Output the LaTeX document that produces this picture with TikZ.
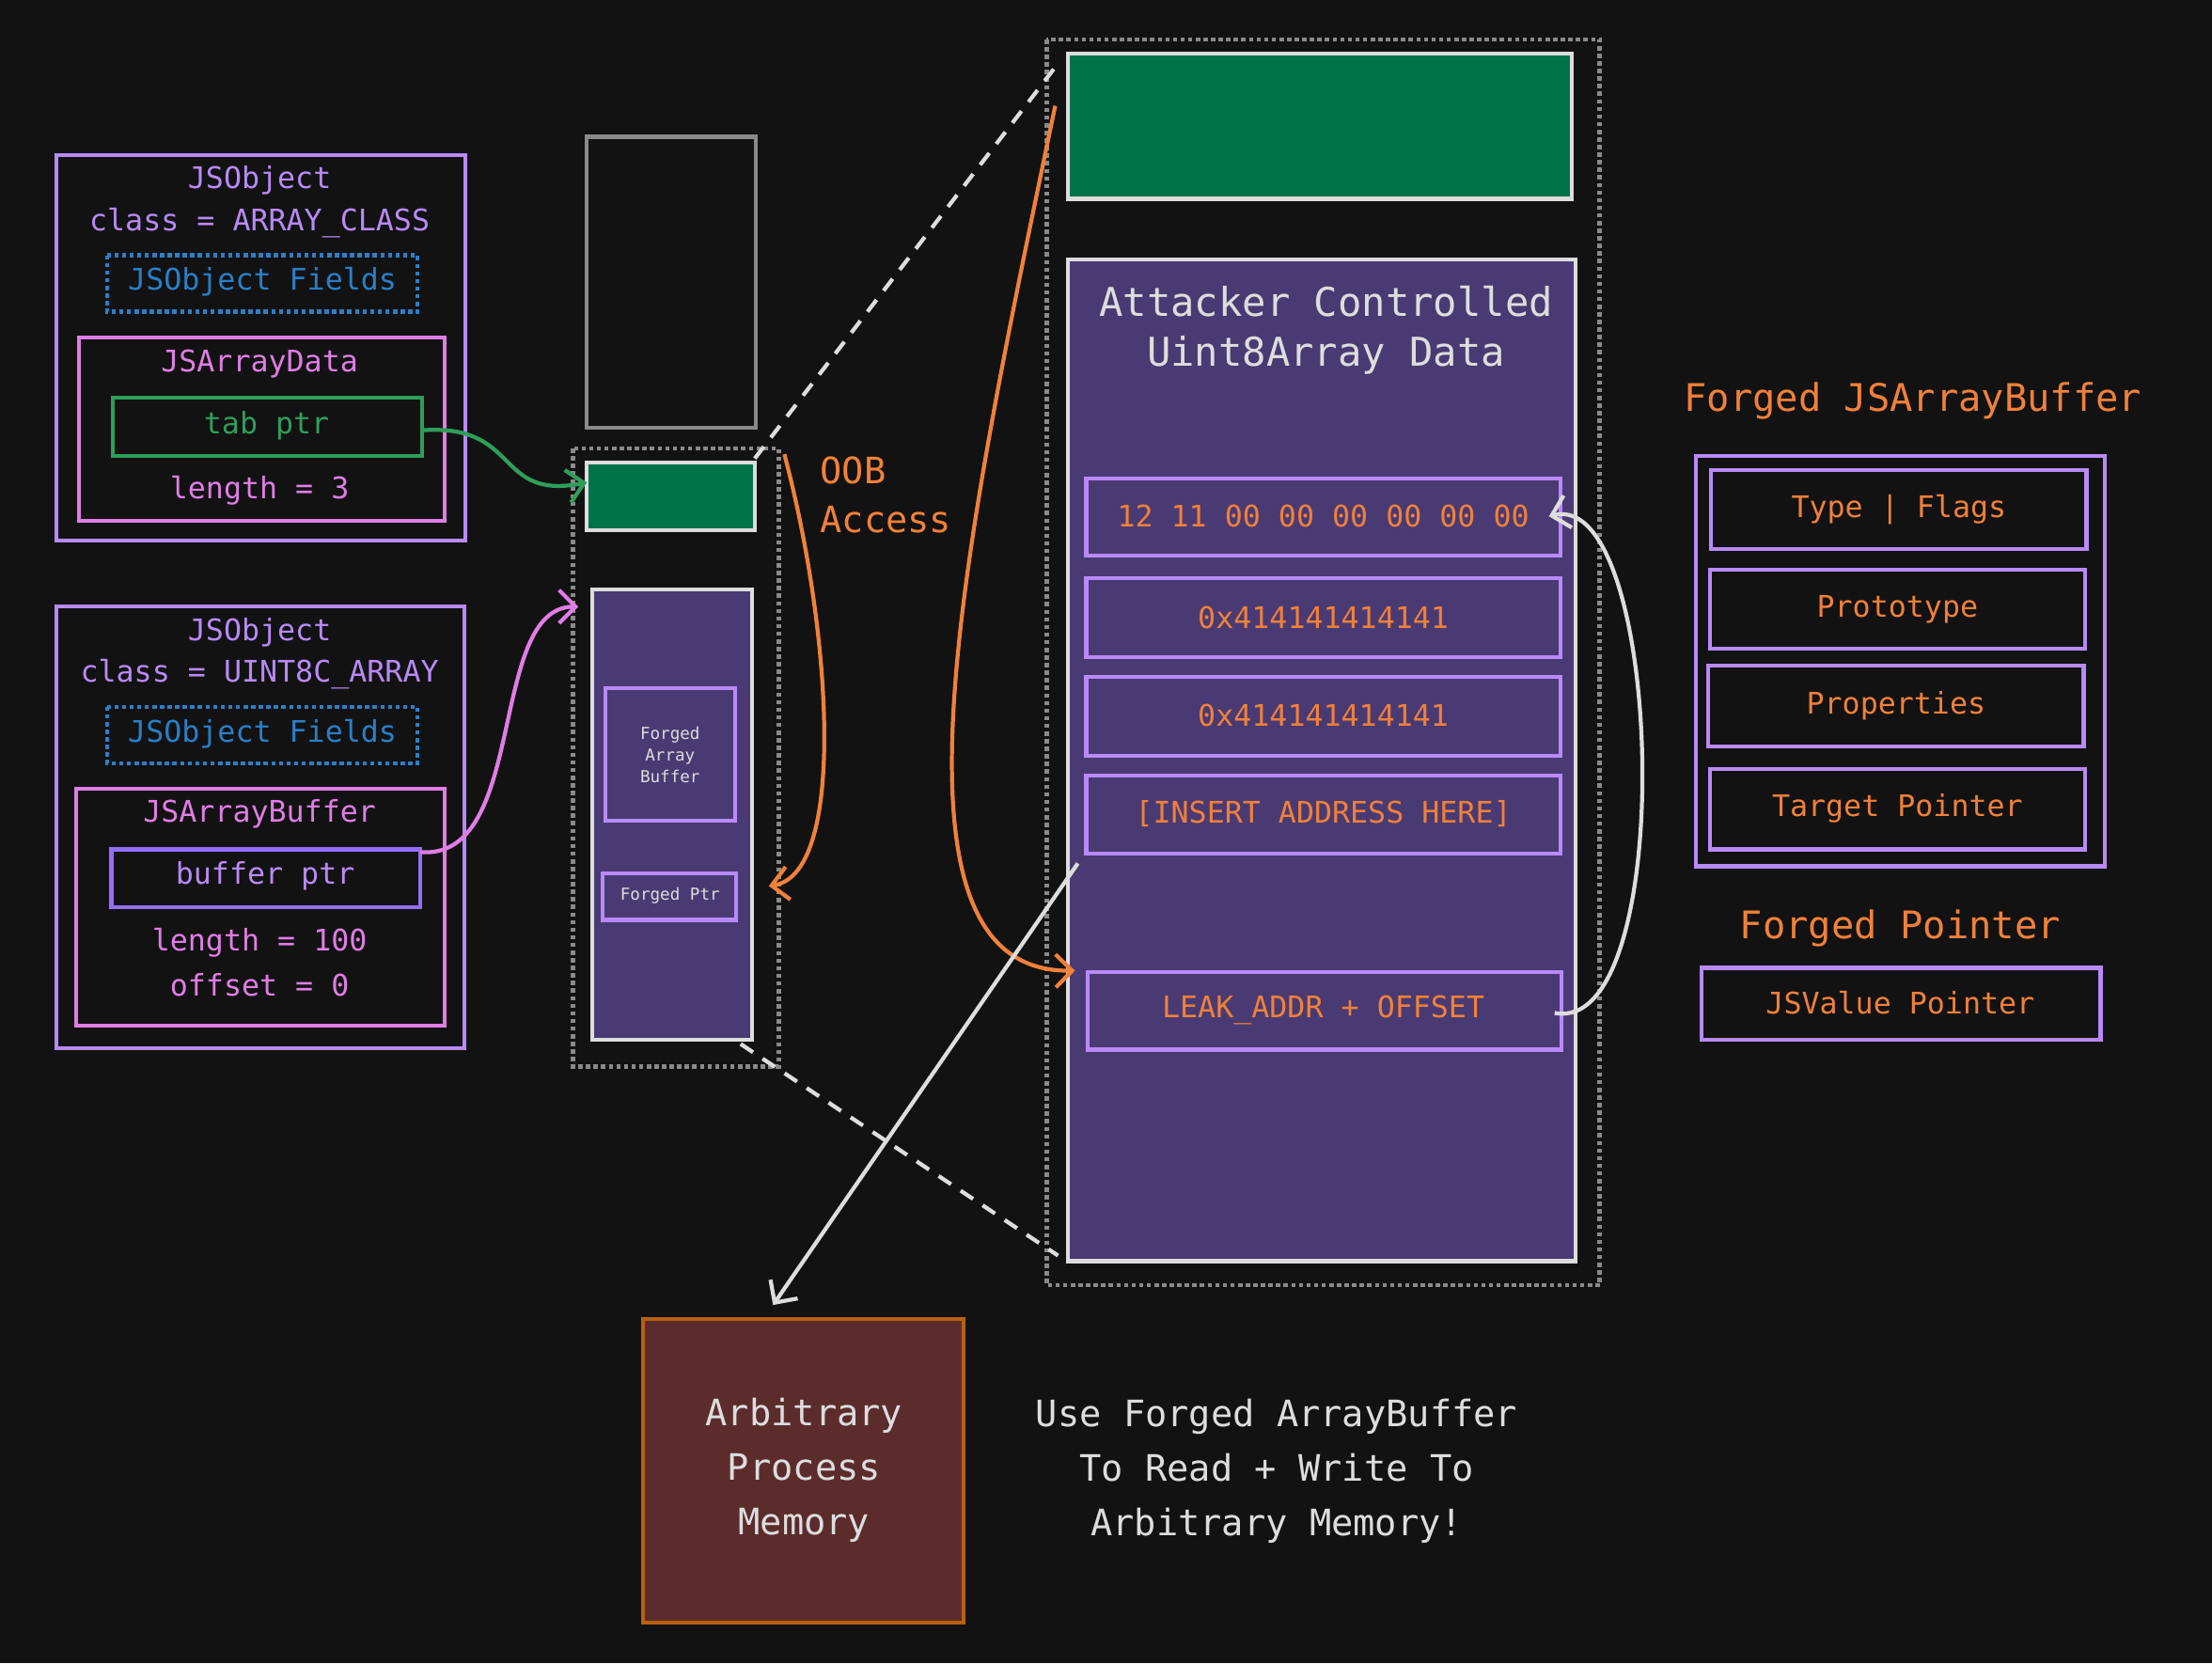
\documentclass[tikz,border=0pt]{standalone}
\usepackage{fontspec}
\setmainfont{DejaVu Sans Mono}
\usetikzlibrary{arrows.meta}
\begin{document}
\begin{tikzpicture}[x=0.03cm,y=-0.03cm,line width=2.4pt,
  every node/.style={font=\fontsize{18}{20}\selectfont},
  dotb/.style={draw=blu,dotted,line width=2.6pt},
  t/.style={text=#1,inner sep=0pt},
  row/.style={draw=pur,fill=none},
  arr/.style={-{Straight Barb[length=10pt]},line width=2.4pt}]
\definecolor{bg}{HTML}{121212}
\definecolor{pur}{HTML}{B88AF7}
\definecolor{pink}{HTML}{E07DE6}
\definecolor{blu}{HTML}{2A7FC8}
\definecolor{grn}{HTML}{2F9E5A}
\definecolor{org}{HTML}{F0813A}
\definecolor{pfill}{HTML}{4A3A73}
\definecolor{gfill}{HTML}{00734A}
\definecolor{wh}{HTML}{DDDDDD}
\definecolor{gr}{HTML}{8A8A8A}
\definecolor{brn}{HTML}{5C2C2C}
\definecolor{brb}{HTML}{B8600F}
\fill[bg] (0,0) rectangle (1568,1179);
\useasboundingbox (0,0) rectangle (1568,1179);
% left box 1
\draw[pur] (40,110) rectangle (330,383);
\node[t=pur] (j1) at (184,128) {JSObject};
\node[t=pur] (c1) at (184,158) {class = ARRAY\_CLASS};
\draw[dotb] (76,181) rectangle (296,221);
\node[t=blu] (f1) at (186,200) {JSObject Fields};
\draw[pink] (56,239) rectangle (315,369);
\node[t=pink] (ad) at (184,258) {JSArrayData};
\draw[grn] (80,282) rectangle (299,323);
\node[t=grn] (tab) at (189,302) {tab ptr};
\coordinate (tabR) at (299,305);
\node[t=pink] (l3) at (184,348) {length = 3};
% left box 2
\draw[pur] (40,430) rectangle (329,743);
\node[t=pur] (j2) at (184,448) {JSObject};
\node[t=pur] (c2) at (184,478) {class = UINT8C\_ARRAY};
\draw[dotb] (76,501) rectangle (296,541);
\node[t=blu] (f2) at (186,520) {JSObject Fields};
\draw[pink] (54,559) rectangle (315,727);
\node[t=pink] (ab) at (184,577) {JSArrayBuffer};
\draw[pur!80!blue] (79,602) rectangle (298,643);
\node[t=pur] (bp) at (188,621) {buffer ptr};
\coordinate (bpR) at (298,604);
\node[t=pink] (l100) at (184,668) {length = 100};
\node[t=pink] (off) at (184,698) {offset = 0};
% middle
\draw[gr] (416,97) rectangle (536,303);
\draw[gr,dotted,line width=2.6pt] (406,318) rectangle (552,756);
\draw[wh,fill=gfill] (416,328) rectangle (535,376);
\coordinate (gIn) at (416,342);
\draw[wh,fill=pfill] (420,418) rectangle (533,737);
\coordinate (pIn) at (410,430);
\draw[pur] (429,488) rectangle (521,582);
\node[t=wh,align=center,font=\fontsize{10}{13}\selectfont] (fab) at (475,535) {Forged\\Array\\Buffer};
\draw[pur] (427,619) rectangle (522,652);
\node[t=wh,font=\fontsize{10}{12}\selectfont] (fp) at (475,635) {Forged Ptr};
\node[t=org,align=left,anchor=north west,font=\fontsize{22}{30}\selectfont] (oob) at (580,322) {OOB\\Access};
% big
\draw[gr,dotted,line width=2.6pt] (742,28) rectangle (1134,911);
\draw[wh,fill=gfill] (757,38) rectangle (1114,141);
\draw[wh,fill=pfill] (757,184) rectangle (1117,894);
\node[t=wh,align=center,font=\fontsize{24}{30}\selectfont] (acd) at (940,234) {Attacker Controlled\\Uint8Array Data};
\draw[row] (770,339) rectangle (1106,394);
\node[t=org] (r1) at (938,366) {12 11 00 00 00 00 00 00};
\draw[row] (770,410) rectangle (1106,466);
\node[t=org] (r2) at (938,438) {0x414141414141};
\draw[row] (770,480) rectangle (1106,536);
\node[t=org] (r3) at (938,507) {0x414141414141};
\draw[row] (770,550) rectangle (1106,605);
\node[t=org] (r4) at (938,577) {[INSERT ADDRESS HERE]};
\draw[row] (771,689) rectangle (1107,744);
\node[t=org] (r5) at (938,716) {LEAK\_ADDR + OFFSET};
% dashed
\coordinate (d1a) at (535,325); \coordinate (d1b) at (750,45);
\coordinate (d2a) at (525,740); \coordinate (d2b) at (750,890);
\draw[wh,dash pattern=on 9pt off 7pt] (d1a) -- (d1b);
\draw[wh,dash pattern=on 9pt off 7pt] (d2a) -- (d2b);
% arrows
\coordinate (o1) at (556,322); \coordinate (o1e) at (545,628);
\draw[org,arr] (o1) .. controls (590,450) and (600,620) .. (o1e);
\coordinate (o2) at (748,75); \coordinate (o2e) at (762,688);
\draw[org,arr] (o2) .. controls (680,400) and (620,690) .. (o2e);
\draw[grn,arr] (tabR) .. controls (370,300) and (350,355) .. (gIn);
\draw[pink,arr] (bpR) .. controls (375,610) and (345,430) .. (pIn);
\coordinate (w1) at (764,612);
\draw[wh,arr] (w1) -- (548,925);
\coordinate (w2) at (1102,718); \coordinate (w2e) at (1098,366);
\draw[wh,arr] (w2) .. controls (1190,735) and (1180,345) .. (w2e);
% right
\node[t=org,font=\fontsize{23}{26}\selectfont] (fjab) at (1356,284) {Forged JSArrayBuffer};
\draw[pur] (1202,323) rectangle (1492,614);
\draw[row] (1213,333) rectangle (1479,389);
\node[t=org] (q1) at (1346,361) {Type | Flags};
\draw[row] (1212,404) rectangle (1478,460);
\node[t=org] (q2) at (1345,432) {Prototype};
\draw[row] (1211,472) rectangle (1477,529);
\node[t=org] (q3) at (1344,500) {Properties};
\draw[row] (1212,545) rectangle (1478,602);
\node[t=org] (q4) at (1345,573) {Target Pointer};
\node[t=org,font=\fontsize{23}{26}\selectfont] (fpt) at (1347,658) {Forged Pointer};
\draw[row] (1206,686) rectangle (1489,737);
\node[t=org] (q5) at (1347,711) {JSValue Pointer};
% bottom
\draw[brb,fill=brn] (456,935) rectangle (683,1150);
\node[t=wh,align=center,font=\fontsize{22}{33}\selectfont] (apm) at (570,1042) {Arbitrary\\Process\\Memory};
\node[t=wh,align=center,font=\fontsize{22}{33}\selectfont] (use) at (905,1043) {Use Forged ArrayBuffer\\To Read + Write To\\Arbitrary Memory!};
\end{tikzpicture}
\end{document}
